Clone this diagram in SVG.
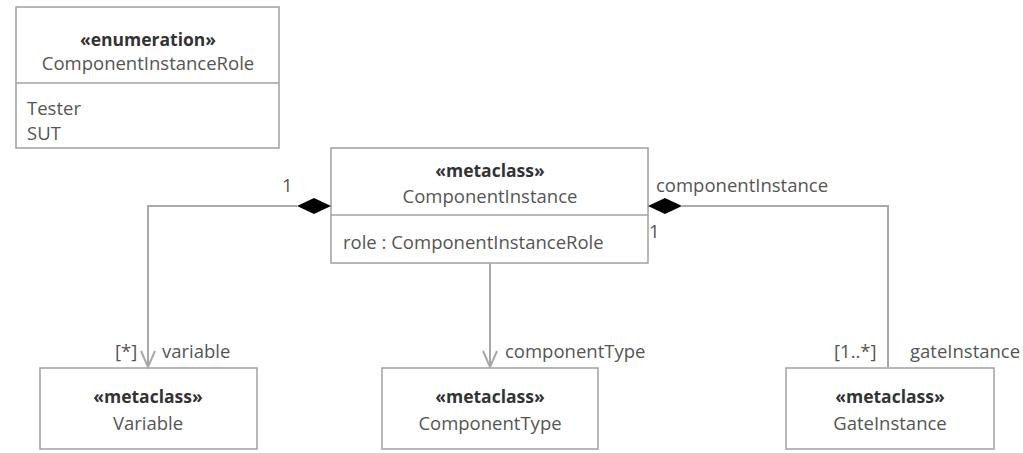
<svg xmlns="http://www.w3.org/2000/svg" width="1023" height="453" viewBox="0 0 1023 453">
<style>
.box{fill:#fff;stroke:#a0a0a0;stroke-width:1.5}
.t{font-family:"Open Sans","Liberation Sans",sans-serif;font-size:18.5px;fill:#555}
.b{font-weight:bold;fill:#333;font-size:17.5px}
.c{text-anchor:middle}
.ln{fill:none;stroke:#a8a8a8;stroke-width:2}
</style>
<rect width="1023" height="453" fill="#fff"/>
<g id="ComponentInstanceRole">
<rect class="box" x="16" y="7" width="263" height="141"/>
<line class="box" x1="16" y1="83" x2="279" y2="83"/>
<text class="t b c" x="148" y="46">«enumeration»</text>
<text class="t c" x="148" y="70">ComponentInstanceRole</text>
<text class="t" x="27" y="115">Tester</text>
<text class="t" x="27" y="140">SUT</text>
</g>
<g id="ComponentInstance">
<rect class="box" x="331" y="148" width="317" height="115"/>
<line class="box" x1="331" y1="215" x2="648" y2="215"/>
<text class="t b c" x="490" y="177">«metaclass»</text>
<text class="t c" x="490" y="203">ComponentInstance</text>
<text class="t" x="343" y="249">role : ComponentInstanceRole</text>
</g>
<g id="Variable">
<rect class="box" x="40" y="368" width="217" height="81"/>
<text class="t b c" x="148" y="403">«metaclass»</text>
<text class="t c" x="148" y="430">Variable</text>
</g>
<g id="ComponentType">
<rect class="box" x="382" y="368" width="216" height="81"/>
<text class="t b c" x="490" y="403">«metaclass»</text>
<text class="t c" x="490" y="430">ComponentType</text>
</g>
<g id="GateInstance">
<rect class="box" x="786" y="368" width="208" height="81"/>
<text class="t b c" x="890" y="403">«metaclass»</text>
<text class="t c" x="890" y="430">GateInstance</text>
</g>
<g id="connectors">
<polyline class="ln" points="297,206 148,206 148,367"/>
<polygon points="331,206 314,198 297,206 314,214" fill="#000"/>
<polyline class="ln" points="141,351 148,367 155,351"/>
<polyline class="ln" points="682,206 888,206 888,367"/>
<polygon points="648,206 665,198 682,206 665,214" fill="#000"/>
<line class="ln" x1="490" y1="263" x2="490" y2="367"/>
<polyline class="ln" points="483,351 490,367 497,351"/>
<text class="t" x="282" y="192">1</text>
<text class="t" x="115" y="358">[*]</text>
<text class="t" x="162" y="358">variable</text>
<text class="t" x="656" y="192">componentInstance</text>
<text class="t" x="649" y="238">1</text>
<text class="t" x="505" y="358">componentType</text>
<text class="t" x="834" y="358">[1..*]</text>
<text class="t" x="910" y="358">gateInstance</text>
</g>
</svg>
